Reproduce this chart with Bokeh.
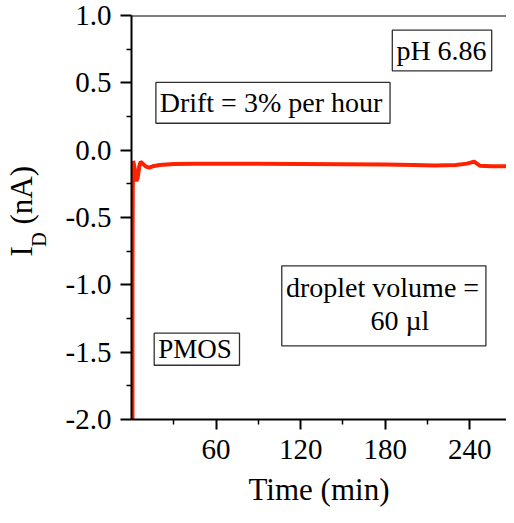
from bokeh.plotting import figure
from bokeh.models import (Range1d, FixedTicker, CustomJSTickFormatter, Label,
                          BoxAnnotation, Span, LinearAxis)
from bokeh.embed import file_html
from bokeh.resources import INLINE

# ---- data ----
time_min = [0.7, 0.7, 0.9, 1.2, 2.0, 3.0, 3.5, 4.5, 5.5, 6.5, 8.0, 10.0, 12.5,
            15.0, 20.0, 30.0, 45.0, 60.0, 90.0, 120.0, 150.0, 180.0, 200.0,
            215.0, 230.0, 238.0, 243.0, 247.0, 255.0, 266.0]
id_na = [-2.0, -1.0, -0.3, -0.08, -0.12, -0.2, -0.23, -0.2, -0.12, -0.086,
         -0.1, -0.12, -0.13, -0.12, -0.11, -0.102, -0.1, -0.1, -0.101,
         -0.103, -0.105, -0.107, -0.11, -0.113, -0.11, -0.1, -0.085, -0.115,
         -0.12, -0.12]

x_major = [60, 120, 180, 240]
x_minor = [30, 90, 150, 210]
y_major = [-2.0, -1.5, -1.0, -0.5, 0.0, 0.5, 1.0]
y_minor = [-1.75, -1.25, -0.75, -0.25, 0.25, 0.75]

FONT = "'Liberation Serif'"

p = figure(width=506, height=515, output_backend="svg", toolbar_location=None,
           x_range=Range1d(0, 266), y_range=Range1d(-2.0, 1.0),
           min_border_left=122, min_border_right=0, min_border_top=15,
           min_border_bottom=96)
p.grid.visible = False
p.outline_line_color = None
p.background_fill_color = "white"
p.border_fill_color = "white"

p.line(time_min, id_na, line_color="#ff2200", line_width=4)

for ax in (p.xaxis[0], p.yaxis[0]):
    ax.axis_line_width = 2
    ax.major_tick_line_width = 2
    ax.minor_tick_line_width = 1.5
    ax.major_tick_in = 0
    ax.minor_tick_in = 0
    ax.major_tick_out = 10
    ax.minor_tick_out = 5
    ax.major_label_text_font = FONT
    ax.major_label_text_font_size = "29px"
    ax.major_label_text_color = "black"
    ax.axis_label_text_font = FONT
    ax.axis_label_text_font_style = "normal"
    ax.axis_label_text_font_size = "31px"
    ax.axis_label_text_color = "black"

p.xaxis.ticker = FixedTicker(ticks=x_major, minor_ticks=x_minor)
p.xaxis.formatter = CustomJSTickFormatter(code="return tick.toFixed(0);")
p.xaxis.major_label_standoff = 10
p.xaxis.axis_label = "Time (min)"
p.xaxis.axis_label_standoff = 10

p.yaxis.major_tick_out = 11
p.yaxis.ticker = FixedTicker(ticks=y_major, minor_ticks=y_minor)
p.yaxis.formatter = CustomJSTickFormatter(code="return tick.toFixed(1);")
p.yaxis.major_label_standoff = 9
# subscript "D" of the y title
p.yaxis.axis_label = "D\u2003\u2003\u2009"
p.yaxis.axis_label_text_font_size = "20px"
p.yaxis.axis_label_standoff = 13

# outer axis carrying "I   (nA)"
ytitle = LinearAxis(ticker=FixedTicker(ticks=[]), axis_line_color=None,
                    major_tick_line_color=None, minor_tick_line_color=None,
                    major_tick_out=0, minor_tick_out=0, major_label_standoff=0,
                    major_label_text_font_size="0px",
                    axis_label="\u2009\u2009I\u2002\u2009(nA)",
                    axis_label_text_font=FONT, axis_label_text_font_size="31px",
                    axis_label_text_font_style="normal",
                    axis_label_text_color="black", axis_label_standoff=-14)
p.add_layout(ytitle, "left")

# top frame line
p.add_layout(Span(location=1.0, dimension="width", line_color="black", line_width=2))

# text boxes
box_style = dict(fill_color=None, fill_alpha=0, line_color="#303030",
                 line_alpha=1.0, line_width=1.3)
p.add_layout(BoxAnnotation(left=185.0, right=255.5, bottom=0.589, top=0.891, **box_style))
p.add_layout(BoxAnnotation(left=17.3, right=183.4, bottom=0.200, top=0.503, **box_style))
p.add_layout(BoxAnnotation(left=106.6, right=251.4, bottom=-1.453, top=-0.859, **box_style))
p.add_layout(BoxAnnotation(left=16.1, right=76.6, bottom=-1.597, top=-1.359, **box_style))

def txt(x, y, s, size="28px"):
    p.add_layout(Label(x=x, y=y, text=s, text_font=FONT, text_font_size=size,
                       text_align="left", text_baseline="middle", text_color="black"))

txt(187.9, 0.74, "pH 6.86")
txt(20.0, 0.354, "Drift = 3% per hour")
txt(109.6, -1.02, "droplet volume =")
txt(169.5, -1.265, "60 \u00b5l")
txt(18.9, -1.478, "PMOS", "27px")

open("out.html", "w").write(file_html(p, INLINE))
